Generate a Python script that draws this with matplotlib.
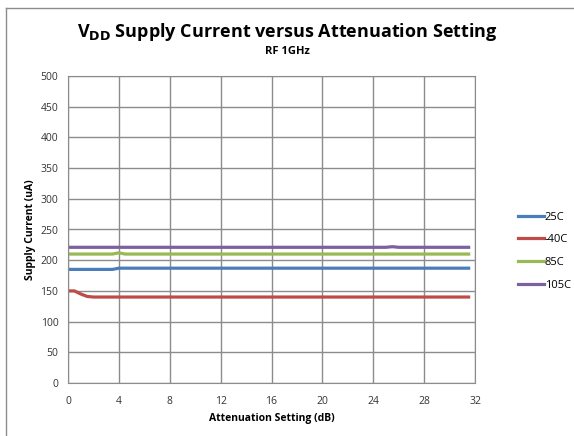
import numpy as np
import matplotlib.pyplot as plt
from matplotlib.lines import Line2D

plt.rcParams['font.family'] = ['Open Sans', 'DejaVu Sans']

# Datos (ajuste de atenuacion en dB, corriente en uA)
x_25 = [0, 3.5, 4.0, 31.5]
y_25 = [185, 185, 187, 187]

x_m40 = [0, 0.5, 1.0, 1.5, 2.0, 31.5]
y_m40 = [150, 150, 145, 141, 140, 140]

x_85 = [0, 3.5, 4.0, 4.5, 31.5]
y_85 = [210, 210, 212, 210, 210]

x_105 = [0, 25.0, 25.5, 26.0, 31.5]
y_105 = [221, 221, 222, 221, 221]

series = [
    (x_25, y_25, "25C", "#4A7EBB"),
    (x_m40, y_m40, "-40C", "#BE4B48"),
    (x_85, y_85, "85C", "#98B954"),
    (x_105, y_105, "105C", "#7D60A0"),
]

fig = plt.figure(figsize=(5.74, 4.36), dpi=100)
ax = fig.add_axes([68/574, 1 - 383/436, (475-68)/574, (383-76)/436])

for xs, ys, lab, col in series:
    ax.plot(xs, ys, color=col, linewidth=2.3, label=lab)

ax.set_xlim(0, 32)
ax.set_ylim(0, 500)
ax.set_xticks(np.arange(0, 33, 4))
ax.set_yticks(np.arange(0, 501, 50))
ax.grid(True, color="#8c8c8c", linewidth=1.0)
ax.set_axisbelow(True)
for s in ax.spines.values():
    s.set_color("#8c8c8c")
ax.tick_params(length=0, labelsize=7.5, colors="#333333")
ax.tick_params(axis="x", pad=9)
ax.tick_params(axis="y", pad=7)
ax.set_xlabel("Attenuation Setting (dB)", fontsize=7.5, fontweight="bold", labelpad=5)
ax.set_ylabel("Supply Current (uA)", fontsize=7.5, fontweight="bold", labelpad=3)

fig.text(0.5, 1 - 32/436, r"V$_{\mathbf{DD}}$ Supply Current versus Attenuation Setting",
         ha="center", va="center", fontsize=13, fontweight="bold")
fig.text(0.5, 1 - 52/436, "RF 1GHz", ha="center", va="center", fontsize=8, fontweight="bold")

ax.legend(loc="center left", bbox_to_anchor=(508/574, 1 - 251/436), bbox_transform=fig.transFigure,
          frameon=False, fontsize=8, handlelength=2.3, labelspacing=1.05, handletextpad=0.1)

fig.add_artist(Line2D([6/574, 6/574], [0, 1 - 8/436], color="#8c8c8c", linewidth=1))
fig.add_artist(Line2D([6/574, 1], [1 - 8/436, 1 - 8/436], color="#8c8c8c", linewidth=1))

fig.savefig("out.png", dpi=100)
